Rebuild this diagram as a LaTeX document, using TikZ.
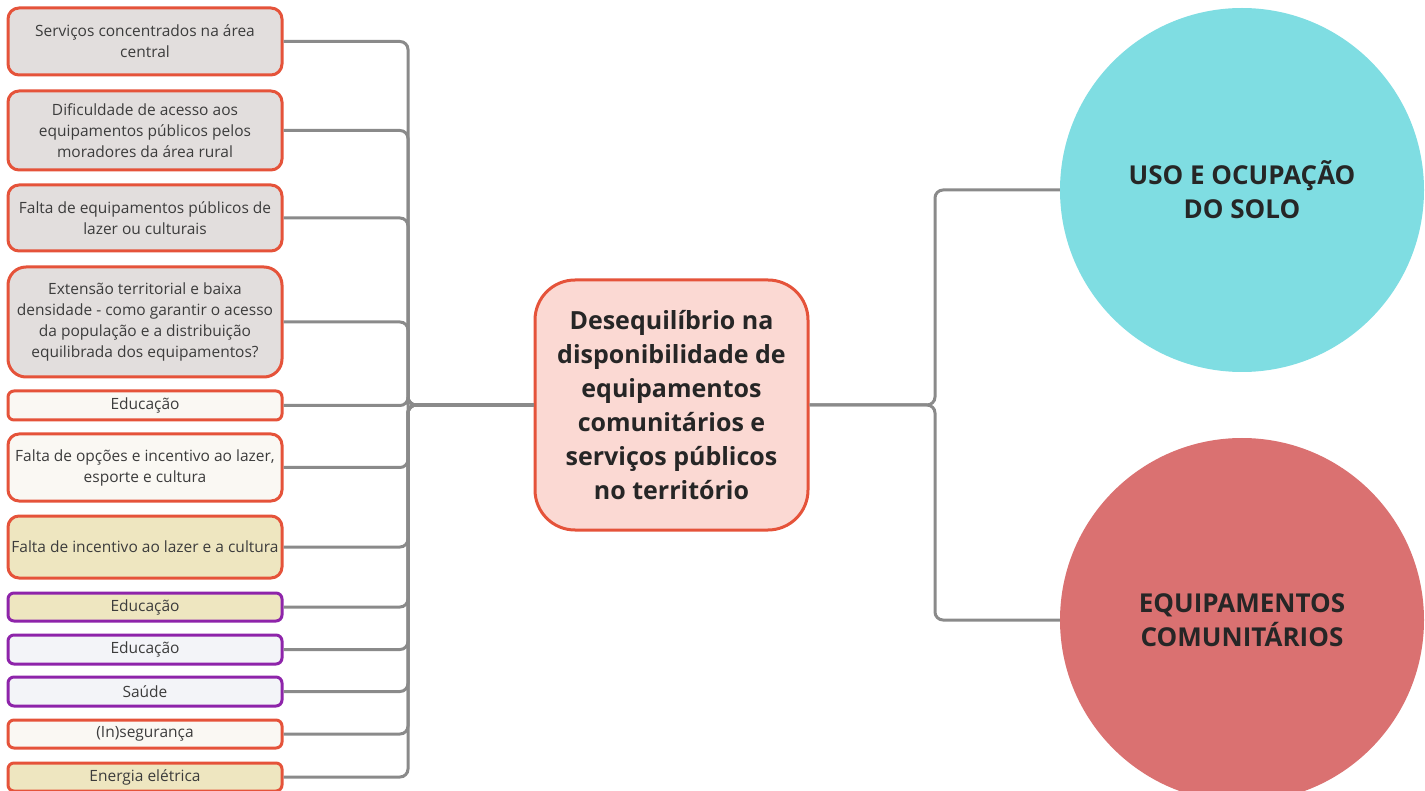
\documentclass[tikz,border=0pt]{standalone}
\usepackage{fontspec}
\setmainfont{Open Sans}
\definecolor{borda}{HTML}{E5533A}
\definecolor{roxo}{HTML}{8E24AA}
\definecolor{cinza}{HTML}{E2DEDD}
\definecolor{creme}{HTML}{FAF8F3}
\definecolor{caqui}{HTML}{EEE6C0}
\definecolor{azulado}{HTML}{F3F4F8}
\definecolor{rosa}{HTML}{FBD9D3}
\definecolor{ciano}{HTML}{7FDDE2}
\definecolor{salmao}{HTML}{DA7171}
\definecolor{linha}{HTML}{8A8A8A}
\definecolor{texto}{HTML}{3C3C3C}
\tikzset{
  topico/.style={draw=borda, line width=3pt, rounded corners=11pt, minimum width=274pt,
    align=center, inner sep=2pt, text=texto, font=\fontsize{15.5}{21}\selectfont},
  roxa/.style={topico, draw=roxo},
  ligacao/.style={draw=linha, line width=3pt, rounded corners=8pt},
  bola/.style={circle, minimum size=364pt, align=center, text=black!85,
    font=\bfseries\fontsize{26}{34}\selectfont}
}
\begin{document}
\begin{tikzpicture}[x=1pt,y=-1pt]
\useasboundingbox (0,0) rectangle (1425,791);
% caixas da esquerda
\node[topico, fill=cinza, minimum height=67pt] (servicos) at (145,41.5) {Serviços concentrados na área\\central};
\node[topico, fill=cinza, minimum height=79pt] (acesso) at (145,130.5) {Dificuldade de acesso aos\\equipamentos públicos pelos\\moradores da área rural};
\node[topico, fill=cinza, minimum height=66pt] (lazer) at (145,218) {Falta de equipamentos públicos de\\lazer ou culturais};
\node[topico, fill=cinza, minimum height=110pt, rounded corners=18pt] (extensao) at (145,322) {Extensão territorial e baixa\\densidade - como garantir o acesso\\da população e a distribuição\\equilibrada dos equipamentos?};
\node[topico, fill=creme, minimum height=29pt, rounded corners=6pt] (educa) at (145,405.5) {Educação};
\node[topico, fill=creme, minimum height=67pt] (opcoes) at (145,467.5) {Falta de opções e incentivo ao lazer,\\esporte e cultura};
\node[topico, fill=caqui, minimum height=62pt] (incentivo) at (145,547) {Falta de incentivo ao lazer e a cultura};
\node[roxa, fill=caqui, minimum height=28pt, rounded corners=6pt] (educb) at (145,607) {Educação};
\node[roxa, fill=azulado, minimum height=29pt, rounded corners=6pt] (educc) at (145,649.5) {Educação};
\node[roxa, fill=azulado, minimum height=29pt, rounded corners=6pt] (saude) at (145,691.5) {Saúde};
\node[topico, fill=creme, minimum height=28pt, rounded corners=6pt] (seguranca) at (145,734) {(In)segurança};
\node[topico, fill=caqui, minimum height=28pt, rounded corners=6pt] (energia) at (145,777) {Energia elétrica};
% tema central
\node[draw=borda, line width=3pt, fill=rosa, rounded corners=40pt, minimum width=273pt,
  minimum height=250pt, align=center, text=black!85, font=\bfseries\fontsize{25}{34}\selectfont]
  (centro) at (671.5,405) {Desequilíbrio na\\disponibilidade de\\equipamentos\\comunitários e\\serviços públicos\\no território};
% eixos
\node[bola, fill=ciano] (uso) at (1242,190) {USO E OCUPAÇÃO\\DO SOLO};
\node[bola, fill=salmao] (equip) at (1242,620) {EQUIPAMENTOS\\COMUNITÁRIOS};
\coordinate (hubL) at (408,405);
\coordinate (hubR) at (935,405);
\foreach \n in {servicos,acesso,lazer,extensao,educa,opcoes,incentivo,educb,educc,saude,seguranca,energia}
  \draw[ligacao] (\n.east) -| (hubL) -- (centro.west);
\draw[ligacao] (centro.east) -- (hubR) |- (uso.west);
\draw[ligacao] (centro.east) -- (hubR) |- (equip.west);
\end{tikzpicture}
\end{document}
